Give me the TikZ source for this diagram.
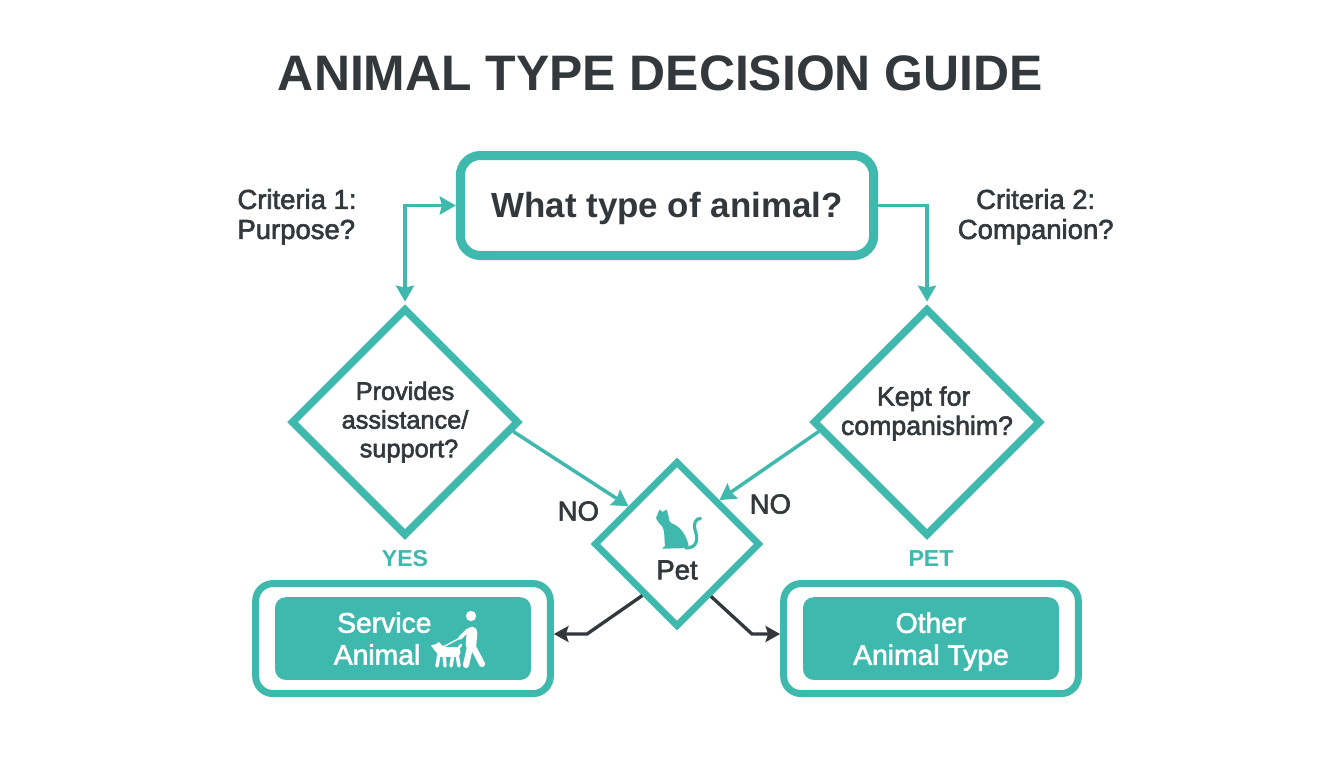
\documentclass[tikz,border=0pt]{standalone}
\usepackage{fontspec}
\setmainfont{Liberation Sans}
\newfontfamily\medfont[FakeBold=2.2]{Liberation Sans}
\usetikzlibrary{positioning}
\usetikzlibrary{shapes.geometric}
\usetikzlibrary{arrows.meta}
\definecolor{guideteal}{HTML}{3FB8AE}
\definecolor{guidedark}{HTML}{33383D}
\tikzset{
    questionbox/.style={draw=guideteal, line width=6.75pt, rounded corners=15pt, minimum width=310pt, minimum height=75pt, inner sep=0pt, text=guidedark, text height=24pt, text depth=6pt, font=\bfseries\fontsize{26.2}{30}\selectfont},
    decision/.style={shape=diamond, aspect=1, draw=guideteal, line width=5.6pt, inner sep=0pt, minimum width=171pt, minimum height=171pt, text=guidedark, align=center, font=\medfont\fontsize{19}{21.5}\selectfont},
    petdecision/.style={decision, line width=5pt, minimum width=124.5pt, minimum height=124.5pt},
    resultframe/.style={draw=guideteal, line width=5.25pt, rounded corners=13pt, minimum width=221pt, minimum height=82.5pt, inner sep=0pt},
    resultfill/.style={fill=guideteal, rounded corners=8pt, minimum width=192pt, minimum height=62pt, inner sep=0pt},
    resulttext/.style={text=white, align=center, font=\medfont\fontsize{21.2}{24}\selectfont},
    sidetext/.style={text=guidedark, font=\medfont\fontsize{20.6}{22.5}\selectfont},
    branchtext/.style={text=guideteal, font=\bfseries\fontsize{17.3}{20}\selectfont},
    tealarrow/.style={draw=guideteal, line width=2.6pt, -{Stealth[length=12pt,width=13.5pt,inset=1.5pt]}},
    darkarrow/.style={draw=guidedark, line width=2.5pt, -{Stealth[length=11pt,width=12pt,inset=2pt]}},
    icon/.style={fill=guideteal, draw=none},
    whiteicon/.style={white, line cap=round, line join=round}
}
\begin{document}
\begin{tikzpicture}[x=0.75pt, y=0.75pt, on grid]

    \useasboundingbox[fill=white] (0,0) rectangle (1344,-768);

    % Define nodes
    \node[questionbox] (animal) at (667,-205.5) {What type of animal?};
    \node[decision, below left=162.4pt and 196.5pt of animal] (assist) {Provides\\assistance/\hspace*{10.5pt}\\\hspace*{6pt}support?};
    \node[decision, below right=162.4pt and 195pt of animal] (companion) {};
    \node[petdecision, below right=91.5pt and 204pt of assist] (pet) {};
    \node[resultframe, below left=162.4pt and 1.5pt of assist] (service) {};
    \node[resultframe, below right=162.4pt and 3pt of companion] (other) {};
    \node[resultfill] (servicefill) at (service) {};
    \node[resultfill] (otherfill) at (other) {};

    % Texts
    \node[font=\bfseries\fontsize{37.4}{40}\selectfont, text=guidedark, above=99.5pt of animal, xshift=-5pt] (title) {ANIMAL TYPE DECISION GUIDE};
    \node[sidetext, align=left, below left=8.5pt and 277.5pt of animal] (criteriaone) {Criteria 1:\\Purpose?};
    \node[sidetext, align=center, below right=8.5pt and 276.5pt of animal] (criteriatwo) {Criteria 2:\\Companion?};
    \node[decision, draw=none, fill=none, above=6.5pt of companion, font=\medfont\fontsize{20}{22}\selectfont] (keptlabel) {Kept for\hspace*{5pt}\\companishim?};
    \node[sidetext, below=19.5pt of pet] (petlabel) {Pet};
    \node[branchtext, below=102.5pt of assist] (yes) {YES};
    \node[branchtext, below=102.5pt of companion, xshift=3pt] (petbranch) {PET};
    \node[sidetext, left=74pt of pet, yshift=24.7pt] (noleft) {NO};
    \node[sidetext, right=70pt of pet, yshift=30pt] (noright) {NO};
    \node[resulttext, left=14pt of servicefill] (servicelabel) {Service\\Animal\hspace*{11pt}};
    \node[resulttext, yshift=-2.2pt] (otherlabel) at (otherfill) {Other\\Animal Type};

    % Connect the nodes
    \coordinate (petleft) at (587,-634);
    \coordinate (petright) at (752,-634);
    \draw[tealarrow, {Stealth[length=12pt,width=13.5pt,inset=1.5pt]}-{Stealth[length=12pt,width=13.5pt,inset=1.5pt]}, shorten >=2pt] (animal.west) -| (assist.north);
    \draw[tealarrow, shorten >=2pt] (animal.east) -| (companion.north);
    \draw[tealarrow] (assist.-5) -- (pet.142);
    \draw[tealarrow] (companion.185) -- (pet.46);
    \draw[darkarrow] (pet.-124) -- (petleft) -- (petleft -| service.east);
    \draw[darkarrow] (pet.-57) -- (petright) -- (petright -| other.west);

    % Cat
    \fill[icon] (659.5,-509.5) -- (662.5,-512) -- (666.5,-509.5) -- (668.5,-516)
        .. controls (669,-520) and (669,-521) .. (671,-523)
        .. controls (680,-526) and (687,-535) .. (689,-548)
        -- (670,-548.5) -- (662,-548.5) -- (665,-546)
        .. controls (664,-538) and (665,-530) .. (662,-526)
        .. controls (659,-524) and (657,-520) .. (656,-518) -- cycle;
    \draw[guideteal, line width=2.4pt, line cap=round] (686,-548)
        .. controls (698,-548) and (698,-538) .. (695,-530)
        .. controls (693,-524) and (696,-518) .. (700.5,-518.5);

    % Walker and dog
    \fill[white] (471,-616) circle (3.9pt);
    \draw[whiteicon, line width=8pt] (472,-632) -- (471,-645);
    \draw[whiteicon, line width=4.6pt] (470,-647) -- (466,-665);
    \draw[whiteicon, line width=4.6pt] (473,-647) -- (482,-664);
    \draw[whiteicon, line width=2.8pt] (468,-630) -- (460,-638);
    \draw[whiteicon, line width=1pt] (460,-638) -- (443,-647);
    \draw[whiteicon, line width=7pt] (441,-652) -- (456,-652);
    \fill[white] (431,-645.5) -- (436,-644) -- (439,-642) -- (444,-647) -- (441,-656) -- (435,-651) -- cycle;
    \draw[whiteicon, line width=2.6pt] (439,-654) -- (437,-666);
    \draw[whiteicon, line width=2.6pt] (444,-654) -- (445,-666);
    \draw[whiteicon, line width=2.6pt] (453,-654) -- (451,-666);
    \draw[whiteicon, line width=2.6pt] (457,-654) -- (459,-666);
    \draw[whiteicon, line width=1.8pt] (457,-650) -- (461,-645);

\end{tikzpicture}
\end{document}
